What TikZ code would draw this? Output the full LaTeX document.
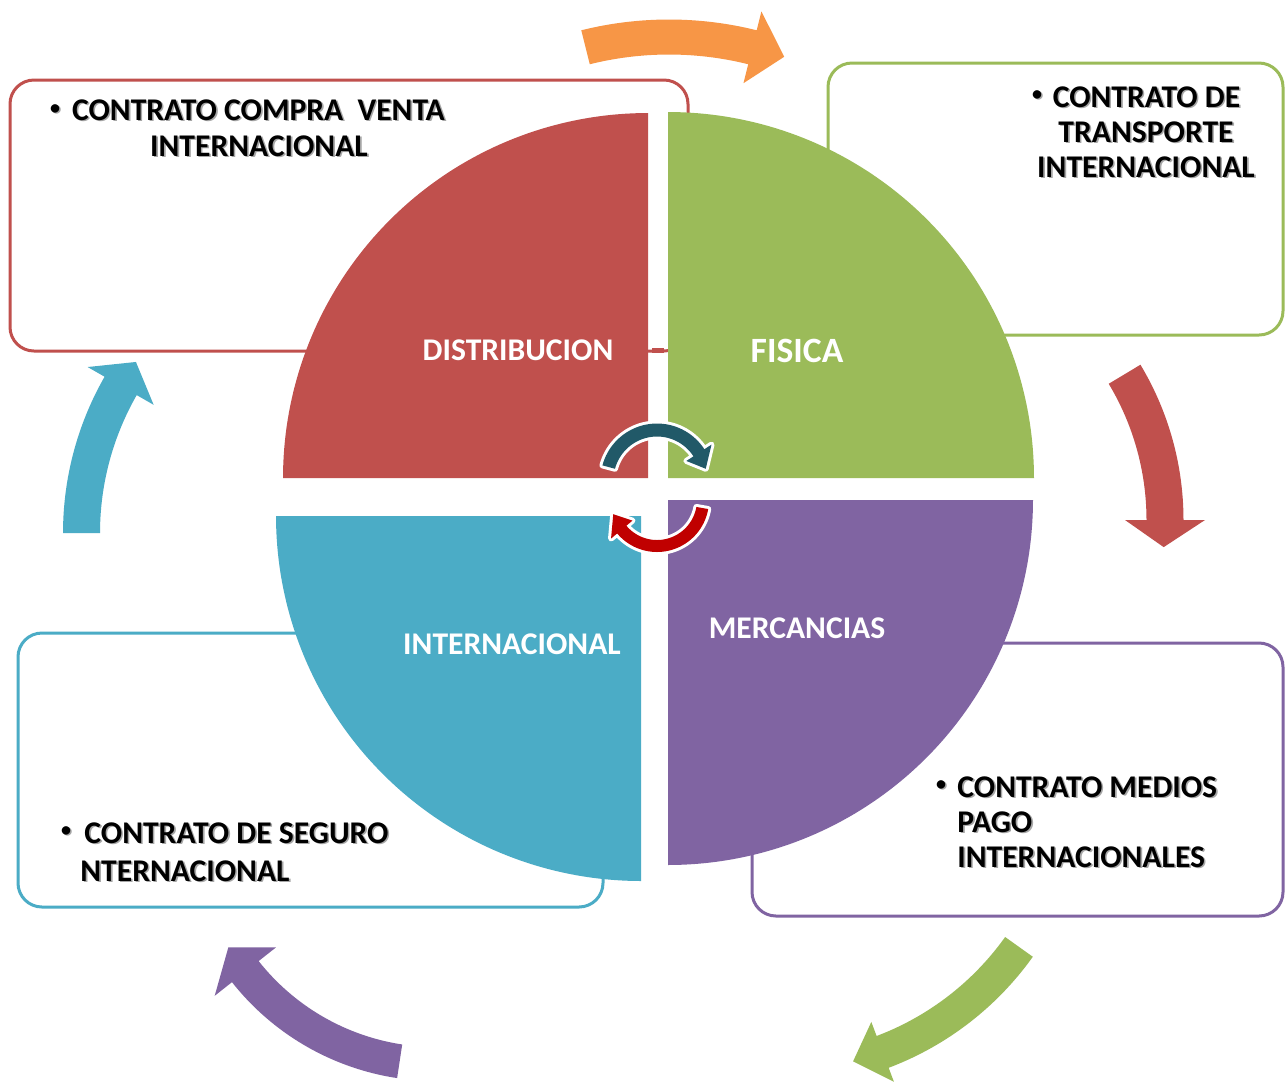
\documentclass[tikz,border=0pt]{standalone}
\usepackage{fontspec}
\setmainfont{Carlito}
\definecolor{cRed}{HTML}{C0504D}
\definecolor{cGreen}{HTML}{9BBB59}
\definecolor{cPurple}{HTML}{8064A2}
\definecolor{cBlue}{HTML}{4BACC6}
\definecolor{cOrange}{HTML}{F79646}
\definecolor{cTeal}{HTML}{215968}
\definecolor{cDark}{HTML}{C00000}
% curved block arrow: cx cy R w start end head-angle head-halfwidth style
\newcommand{\curvarr}[9]{%
  \fill[#9] plot[domain=#5:#6,samples=40] ({#1+(#3+#4/2)*cos(\x)},{#2+(#3+#4/2)*sin(\x)})
   -- ({#1+(#3+#8)*cos(#6)},{#2+(#3+#8)*sin(#6)})
   -- ({#1+#3*cos(#6+#7)},{#2+#3*sin(#6+#7)})
   -- ({#1+(#3-#8)*cos(#6)},{#2+(#3-#8)*sin(#6)})
   -- plot[domain=#6:#5,samples=40] ({#1+(#3-#4/2)*cos(\x)},{#2+(#3-#4/2)*sin(\x)}) -- cycle;}
% quarter disc: cx cy R start end colour
\newcommand{\quarterdisc}[6]{%
  \fill[#6] (#1,#2) -- plot[domain=#4:#5,samples=80] ({#1+#3*cos(\x)},{#2+#3*sin(\x)}) -- cycle;}
% text with soft shadow inside one node
\newcommand{\shadowed}[1]{\leavevmode\rlap{\hspace{0.8pt}\raisebox{-0.8pt}{\textcolor{black!35}{#1}}}#1}
\tikzset{
  txt/.style={inner sep=0pt,font=\bfseries\fontsize{15.8}{18}\selectfont},
  bul/.style={inner sep=0pt,font=\bfseries\fontsize{10}{12}\selectfont},
  qlabel/.style={inner sep=0pt,text=white,font=\bfseries\fontsize{15.8}{18}\selectfont},
  textbox/.style={fill=white,line width=1.5pt,rounded corners=12pt},
}
\begin{document}
\begin{tikzpicture}[x=0.5pt,y=-0.5pt]
\useasboundingbox[fill=white] (0,0) rectangle (1285,1089);
% text boxes
\draw[textbox,draw=cRed] (10,80) rectangle (688,351);
\draw[textbox,draw=cGreen] (828,63) rectangle (1283,335);
\draw[textbox,draw=cPurple] (752,643) rectangle (1283,916);
\draw[textbox,draw=cBlue] (18,633) rectangle (603,907);
% quadrants
\quarterdisc{648}{478}{365}{180}{270}{cRed}
\quarterdisc{668}{478}{366}{270}{360}{cGreen}
\quarterdisc{641}{516}{365}{90}{180}{cBlue}
\quarterdisc{668}{500}{365}{0}{90}{cPurple}
\fill[cRed] (652,348) rectangle (664,353);
% quadrant labels
\node[qlabel,anchor=base] (qa) at (518,360) {DISTRIBUCION};
\node[qlabel,anchor=base,font=\bfseries\fontsize{17.8}{20}\selectfont] (qb) at (797,362) {FISICA};
\node[qlabel,anchor=base] (qc) at (512,654) {INTERNACIONAL};
\node[qlabel,anchor=base] (qd) at (797,638) {MERCANCIAS};
% box texts
\node[bul] (ab) at (55,110) {\shadowed{•}};
\node[txt,anchor=base] (a1) at (258.5,120) {\shadowed{CONTRATO COMPRA~ VENTA}};
\node[txt,anchor=base] (a2) at (259,156) {\shadowed{INTERNACIONAL}};
\node[bul] (bb) at (1037,96) {\shadowed{•}};
\node[txt,anchor=base] (b1) at (1146.5,107) {\shadowed{CONTRATO DE}};
\node[txt,anchor=base] (b2) at (1146,142) {\shadowed{TRANSPORTE}};
\node[txt,anchor=base] (b3) at (1146,177) {\shadowed{INTERNACIONAL}};
\node[bul] (cb) at (941,786) {\shadowed{•}};
\node[txt,anchor=base west] (c1) at (957,797) {\shadowed{CONTRATO MEDIOS}};
\node[txt,anchor=base west] (c2) at (957,832) {\shadowed{PAGO}};
\node[txt,anchor=base west] (c3) at (957,867) {\shadowed{INTERNACIONALES}};
\node[bul] (db) at (66,832) {\shadowed{•}};
\node[txt,anchor=base west] (d1) at (84,843) {\shadowed{CONTRATO DE SEGURO}};
\node[txt,anchor=base west] (d2) at (80,881) {\shadowed{NTERNACIONAL}};
% outer cycle arrows
\curvarr{669}{382}{345}{35}{-104}{-76}{5.5}{37}{cOrange}
\curvarr{882}{520}{283}{37}{-31}{0}{5.5}{40}{cRed}
\curvarr{778}{775}{296}{34}{35.5}{69.3}{6}{32}{cGreen}
\curvarr{436}{821}{243}{34}{98.6}{141.7}{7}{39}{cPurple}
\curvarr{377.5}{533}{296}{37}{-180}{-150.2}{5.5}{38}{cBlue}
% centre arrows
\curvarr{657}{480}{50}{13}{-165}{-33}{20}{15}{cTeal,preaction={draw=white,line width=3pt,line join=round}}
\curvarr{657}{500}{46}{12}{10}{140}{22}{14}{cDark,preaction={draw=white,line width=3pt,line join=round}}
\end{tikzpicture}
\end{document}
